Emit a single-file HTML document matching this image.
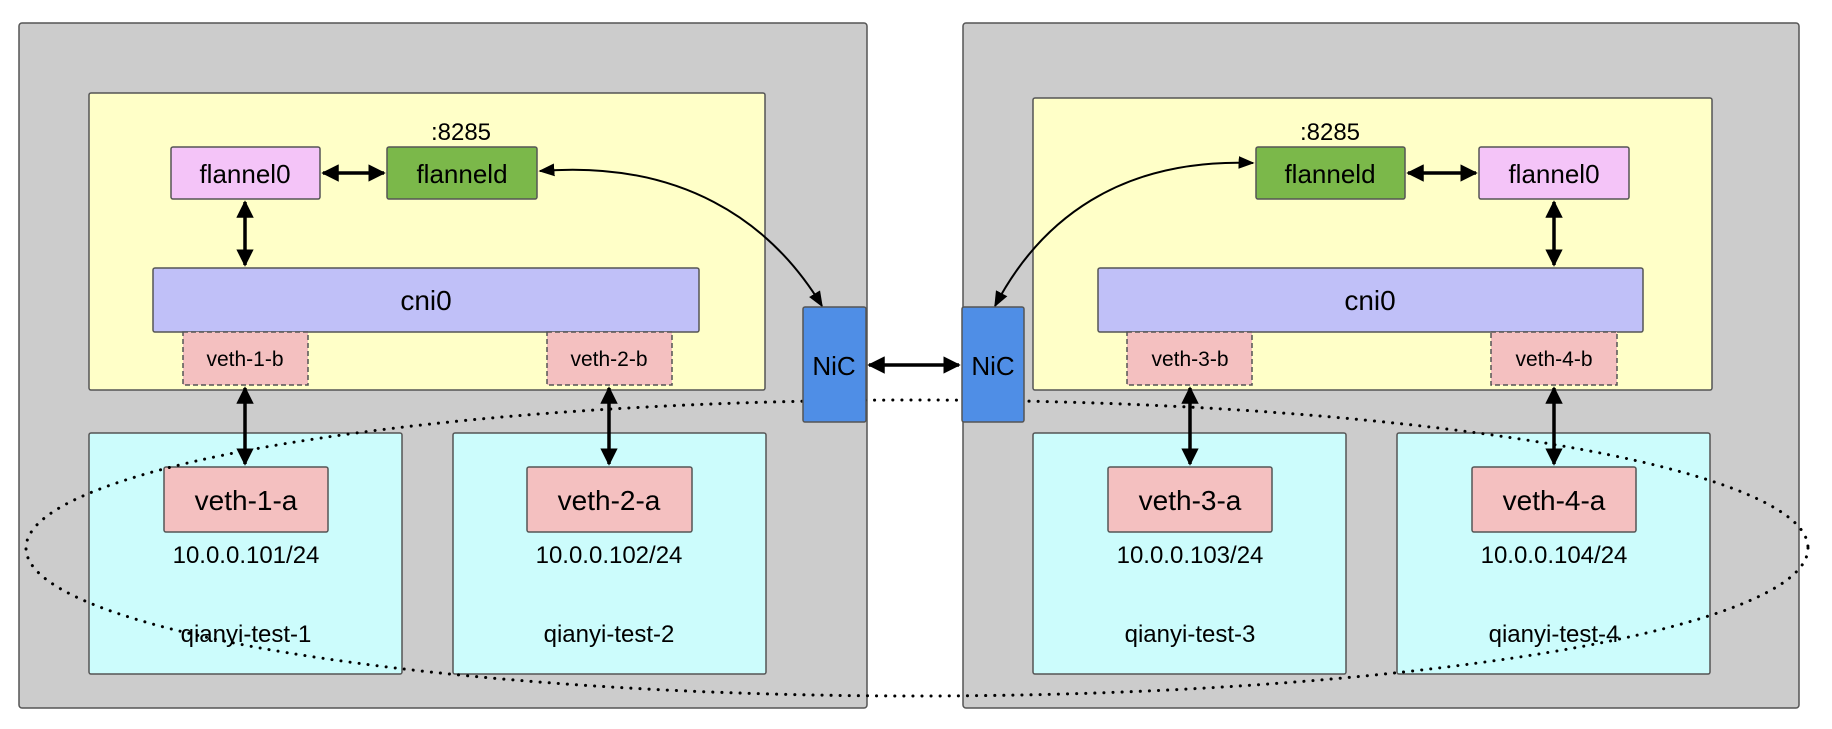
<!DOCTYPE html>
<html><head><style>body{margin:0;background:#fff}</style></head><body>
<svg width="1832" height="724" viewBox="0 0 1832 724" xmlns="http://www.w3.org/2000/svg" font-family="Liberation Sans, sans-serif">
<defs>
<marker id="a" viewBox="0 0 10 10" refX="9" refY="5" markerWidth="5" markerHeight="5" orient="auto-start-reverse"><path d="M0,0L10,5L0,10z" fill="#000"/></marker>
<marker id="b" viewBox="0 0 10 10" refX="9" refY="5" markerWidth="8" markerHeight="8" orient="auto-start-reverse"><path d="M0,1L10,5L0,9z" fill="#000"/></marker>
</defs>
<g stroke="#555" stroke-width="1.5">
<rect x="19" y="23" width="848" height="685" rx="3" fill="#cccccc"/>
<rect x="963" y="23" width="836" height="685" rx="3" fill="#cccccc"/>
<rect x="89" y="93" width="676" height="297" rx="2" fill="#ffffc8"/>
<rect x="1033" y="98" width="679" height="292" rx="2" fill="#ffffc8"/>
<rect x="89" y="433" width="313" height="241" rx="2" fill="#ccfcfc"/>
<rect x="453" y="433" width="313" height="241" rx="2" fill="#ccfcfc"/>
<rect x="1033" y="433" width="313" height="241" rx="2" fill="#ccfcfc"/>
<rect x="1397" y="433" width="313" height="241" rx="2" fill="#ccfcfc"/>
<rect x="171" y="147" width="149" height="52" rx="2" fill="#f4c4f8"/>
<rect x="387" y="147" width="150" height="52" rx="2" fill="#7bb84a"/>
<rect x="1256" y="147" width="149" height="52" rx="2" fill="#7bb84a"/>
<rect x="1479" y="147" width="150" height="52" rx="2" fill="#f4c4f8"/>
<rect x="153" y="268" width="546" height="64" rx="2" fill="#c0c0f8"/>
<rect x="1098" y="268" width="545" height="64" rx="2" fill="#c0c0f8"/>
<g fill="#f4c0c0" stroke-dasharray="5,3"><rect x="183" y="332" width="125" height="53"/><rect x="547" y="332" width="125" height="53"/><rect x="1127" y="332" width="125" height="53"/><rect x="1491" y="332" width="126" height="53"/></g>
<g fill="#f4c0c0"><rect x="164" y="467" width="164" height="65" rx="2"/><rect x="527" y="467" width="165" height="65" rx="2"/><rect x="1108" y="467" width="164" height="65" rx="2"/><rect x="1472" y="467" width="164" height="65" rx="2"/></g>
</g>
<g stroke="#000" stroke-width="3.5" fill="none" marker-start="url(#a)" marker-end="url(#a)">
<line x1="323" y1="173" x2="384" y2="173"/>
<line x1="1408" y1="173" x2="1476" y2="173"/>
<line x1="245" y1="202" x2="245" y2="265"/>
<line x1="1554" y1="202" x2="1554" y2="265"/>
<line x1="245" y1="388" x2="245" y2="464"/>
<line x1="609" y1="388" x2="609" y2="464"/>
<line x1="1190" y1="388" x2="1190" y2="464"/>
<line x1="1554" y1="388" x2="1554" y2="464"/>
<line x1="869" y1="365" x2="959" y2="365"/>
</g>
<g stroke="#000" stroke-width="2" fill="none" marker-start="url(#b)" marker-end="url(#b)">
<path d="M540,171 C680,160 770,220 822,306"/>
<path d="M995,306 C1040,220 1120,158 1253,163"/>
</g>
<ellipse cx="917" cy="548" rx="891" ry="148" fill="none" stroke="#000" stroke-width="3" stroke-dasharray="0.1,9" stroke-linecap="round"/>
<g stroke="#555" stroke-width="1.5" fill="#4f8ee6"><rect x="803" y="307" width="63" height="115" rx="2"/><rect x="962" y="307" width="62" height="115" rx="2"/></g>
<g text-anchor="middle" fill="#000">
<text x="461" y="140" font-size="24">:8285</text><text x="1330" y="140" font-size="24">:8285</text>
<g font-size="26"><text x="245" y="183">flannel0</text><text x="462" y="183">flanneld</text><text x="1330" y="183">flanneld</text><text x="1554" y="183">flannel0</text>
<text x="426" y="310" font-size="28">cni0</text><text x="1370" y="310" font-size="28">cni0</text>
<text x="834" y="375">NiC</text><text x="993" y="375">NiC</text></g>
<g font-size="21"><text x="245" y="366">veth-1-b</text><text x="609" y="366">veth-2-b</text><text x="1190" y="366">veth-3-b</text><text x="1554" y="366">veth-4-b</text></g>
<g font-size="28"><text x="246" y="510">veth-1-a</text><text x="609" y="510">veth-2-a</text><text x="1190" y="510">veth-3-a</text><text x="1554" y="510">veth-4-a</text></g>
<g font-size="24"><text x="246" y="563">10.0.0.101/24</text><text x="609" y="563">10.0.0.102/24</text><text x="1190" y="563">10.0.0.103/24</text><text x="1554" y="563">10.0.0.104/24</text></g>
<g font-size="24"><text x="246" y="642">qianyi-test-1</text><text x="609" y="642">qianyi-test-2</text><text x="1190" y="642">qianyi-test-3</text><text x="1554" y="642">qianyi-test-4</text></g>
</g>
</svg>
</body></html>
